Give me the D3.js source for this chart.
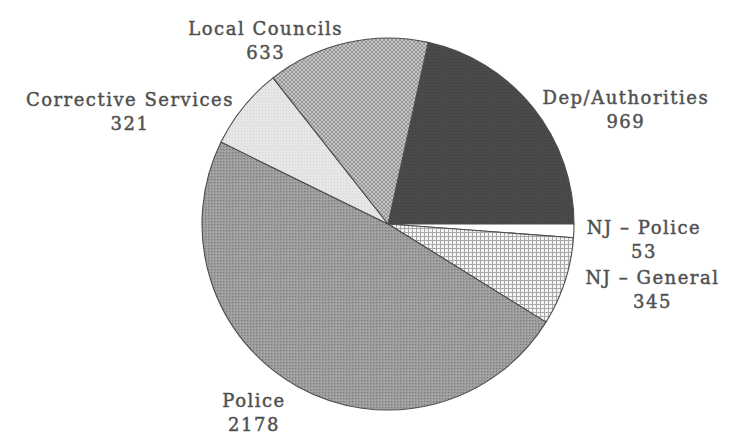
<!DOCTYPE html>
<html lang="en">
<head>
  <meta charset="UTF-8">
  <title>Pie chart</title>
  <script src="https://cdn.jsdelivr.net/npm/d3@7"></script>
  <style>
    body { margin: 0; background: #fff; }
    svg text {
      font-family: "DejaVu Serif", serif;
      font-size: 18px;
      fill: #505050;
      stroke: #505050;
      stroke-width: 0.45px;
      letter-spacing: 1.5px;
    }
  </style>
</head>
<body>
<script>
  // data, clockwise from the top right
  var categories = ["Dep/Authorities", "NJ \u2013 Police", "NJ \u2013 General", "Police", "Corrective Services", "Local Councils"];
  var values = [969, 53, 345, 2178, 321, 633];
  var fills = ["url(#pDark)", "#ffffff", "url(#pGrid)", "url(#pDots)", "url(#pLight)", "url(#pHatch)"];

  var width = 740, height = 439,
      cx = 388, cy = 224,
      radius = 186,
      labelRadius = 211;

  // small [dx, dy] nudges so the labels sit like in the original
  var labelNudge = [[-10, 0], [-12, -10], [-3, -17], [0, -14], [10, 3], [2, 5]];

  var total = d3.sum(values);
  // the first slice ends exactly at 3 o'clock
  var start = Math.PI / 2 - 2 * Math.PI * values[0] / total;

  var svg = d3.select("body").append("svg")
      .attr("width", width)
      .attr("height", height);

  var defs = svg.append("defs");

  // dark solid with faint texture
  var p = defs.append("pattern").attr("id", "pDark").attr("patternUnits", "userSpaceOnUse")
      .attr("width", 3).attr("height", 3);
  p.append("rect").attr("width", 3).attr("height", 3).attr("fill", "#4a4a4a");
  p.append("rect").attr("width", 1).attr("height", 1).attr("fill", "#3e3e3e");

  // square grid
  p = defs.append("pattern").attr("id", "pGrid").attr("patternUnits", "userSpaceOnUse")
      .attr("width", 4).attr("height", 4);
  p.append("rect").attr("width", 4).attr("height", 4).attr("fill", "#f4f4f4");
  p.append("rect").attr("width", 4).attr("height", 1).attr("fill", "#a8a8a8");
  p.append("rect").attr("width", 1).attr("height", 4).attr("fill", "#a8a8a8");

  // fine dots, medium grey
  p = defs.append("pattern").attr("id", "pDots").attr("patternUnits", "userSpaceOnUse")
      .attr("width", 3).attr("height", 3);
  p.append("rect").attr("width", 3).attr("height", 3).attr("fill", "#9c9c9c");
  p.append("rect").attr("width", 1).attr("height", 1).attr("fill", "#7a7a7a");
  p.append("rect").attr("x", 2).attr("y", 2).attr("width", 1).attr("height", 1).attr("fill", "#b0b0b0");

  // very light
  p = defs.append("pattern").attr("id", "pLight").attr("patternUnits", "userSpaceOnUse")
      .attr("width", 3).attr("height", 3);
  p.append("rect").attr("width", 3).attr("height", 3).attr("fill", "#e6e6e6");
  p.append("rect").attr("width", 1).attr("height", 1).attr("fill", "#d4d4d4");

  // diagonal cross hatch
  p = defs.append("pattern").attr("id", "pHatch").attr("patternUnits", "userSpaceOnUse")
      .attr("width", 4).attr("height", 4);
  p.append("rect").attr("width", 4).attr("height", 4).attr("fill", "#c4c4c4");
  p.append("path").attr("d", "M0,4 L4,0 M0,0 L4,4").attr("stroke", "#8c8c8c").attr("stroke-width", 0.8);

  var data = categories.map(function(c, i) { return {name: c, value: values[i], fill: fills[i], nudge: labelNudge[i]}; });

  var pie = d3.pie()
      .sort(null)
      .value(function(d) { return d.value; })
      .startAngle(start)
      .endAngle(start + 2 * Math.PI);

  var arc = d3.arc().innerRadius(0).outerRadius(radius);
  var labelArc = d3.arc().innerRadius(labelRadius).outerRadius(labelRadius);

  var g = svg.append("g").attr("transform", "translate(" + cx + "," + cy + ")");

  var arcs = pie(data);

  g.selectAll("path.slice")
    .data(arcs)
    .enter()
    .append("path")
      .attr("class", "slice")
      .attr("d", arc)
      .attr("fill", function(d) { return d.data.fill; })
      .attr("stroke", "#4d4d4d")
      .attr("stroke-width", 1.1)
      .attr("stroke-linejoin", "round");

  // labels: name line anchored away from the pie, value centred underneath
  arcs.forEach(function(d) {
    var mid = (d.startAngle + d.endAngle) / 2;
    var pos = labelArc.centroid(d);
    var right = Math.sin(mid) > 0;
    var x = pos[0] + d.data.nudge[0];
    var y = pos[1] + 12 + d.data.nudge[1];

    var name = g.append("text")
      .attr("x", x)
      .attr("y", y)
      .attr("text-anchor", right ? "start" : "end")
      .text(d.data.name);

    var w = name.node().getComputedTextLength();
    var centre = right ? x + w / 2 : x - w / 2;

    g.append("text")
      .attr("x", centre)
      .attr("y", y + 24)
      .attr("text-anchor", "middle")
      .text(d.data.value);
  });
</script>
</body>
</html>
